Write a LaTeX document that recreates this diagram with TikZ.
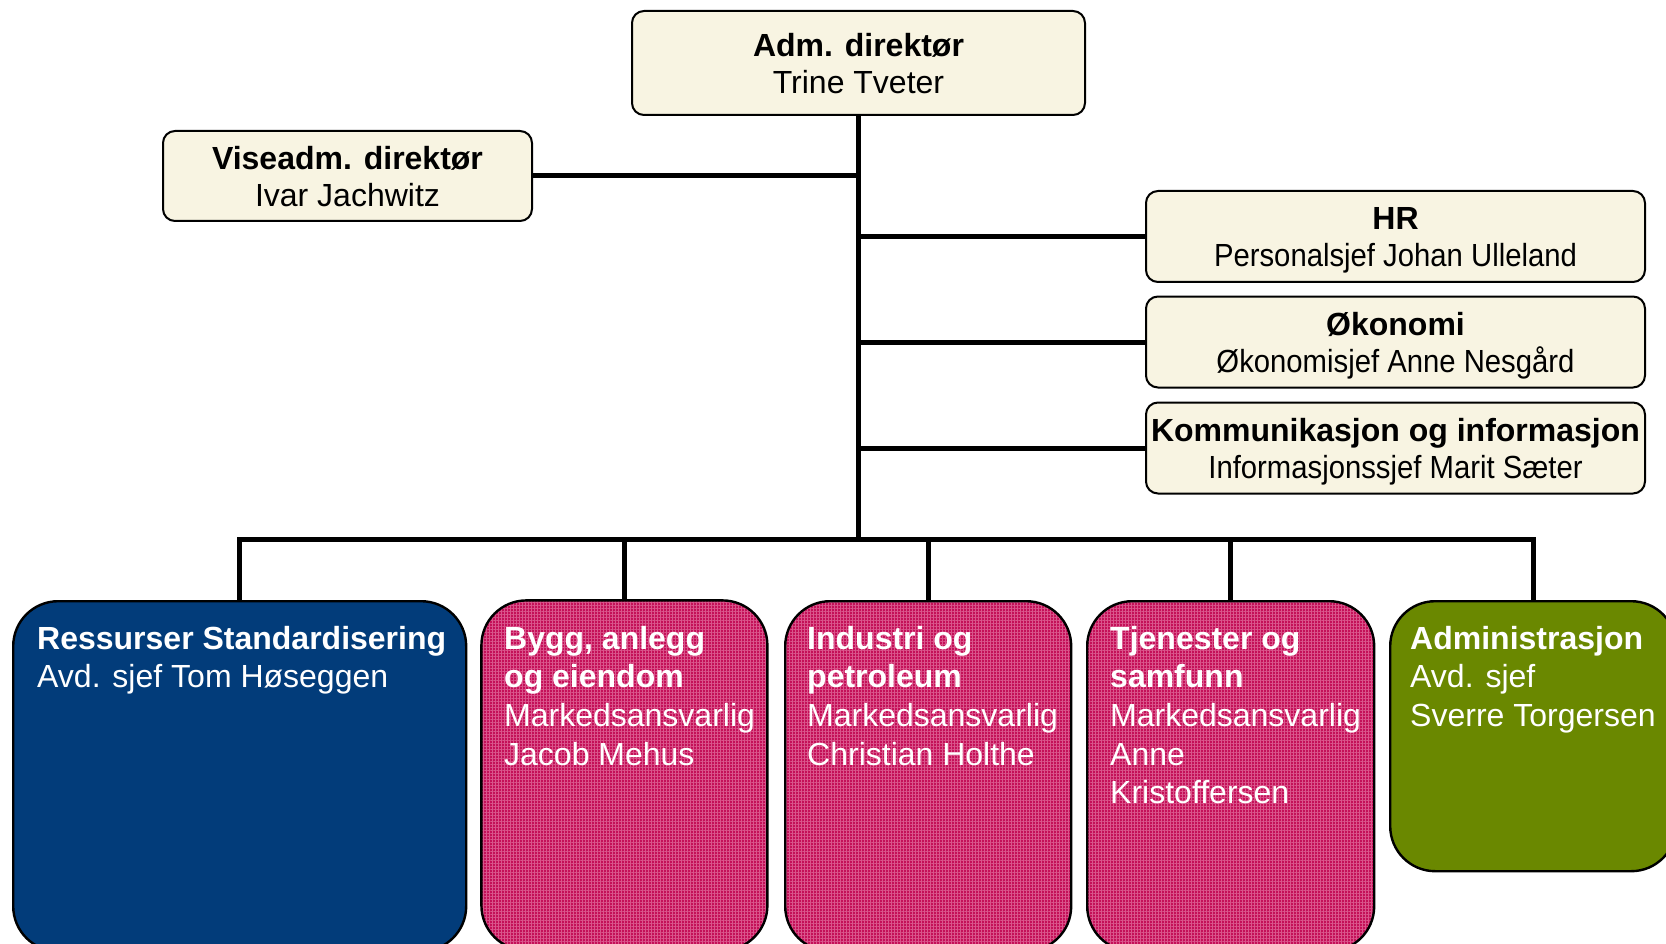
\documentclass[tikz,border=0pt]{standalone}
\usepackage{fontspec}
\setmainfont{Liberation Sans}
\newfontfamily\narrowfont[FakeStretch=0.915]{Liberation Sans}
\usetikzlibrary{patterns.meta}

\definecolor{cream}{RGB}{248,244,226}
\definecolor{resblue}{RGB}{2,60,122}
\definecolor{markpink}{RGB}{196,16,88}
\definecolor{gridpink}{RGB}{218,86,140}
\definecolor{admgreen}{RGB}{106,136,0}

\tikzset{
  topbox/.style={draw, rounded corners=12pt, fill=cream, line width=2pt, align=center, inner sep=0pt,
    text depth=-4pt, font=\fontsize{32}{37}\selectfont},
  deptbox/.style={draw, rounded corners=45pt, line width=2.4pt, inner sep=0pt, anchor=north west,
    minimum width=286pt},
  pinkbox/.style={deptbox, preaction={fill=markpink}, pattern={Hatch[angle=0, distance=3pt, line width=0.8pt]},
    pattern color=gridpink},
  depttext/.style={text=white, align=left, anchor=north west, inner sep=0pt,
    font=\fontsize{32}{38.6}\selectfont},
  link/.style={line width=5pt}
}

\begin{document}
\begin{tikzpicture}[x=1pt, y=-1pt]
	\useasboundingbox (0,0) rectangle (1666,944);
	\clip (0,0) rectangle (1666,944);

	% ledelse og stab
	\node[topbox, minimum width=453pt, minimum height=104pt] (adm) at (858.5,63) {\textbf{Adm. direktør}\\Trine Tveter};
	\node[topbox, minimum width=369pt, minimum height=90pt] (vise) at (347.5,176) {\textbf{Viseadm. direktør}\\Ivar Jachwitz};
	\node[topbox, minimum width=499pt, minimum height=91pt] (hr) at (1395.5,236.5) {\textbf{HR}\\{\narrowfont Personalsjef Johan Ulleland}};
	\node[topbox, minimum width=499pt, minimum height=91pt] (oko) at (1395.5,342) {\textbf{Økonomi}\\{\narrowfont Økonomisjef Anne Nesgård}};
	\node[topbox, minimum width=499pt, minimum height=91pt] (kom) at (1395.5,448) {\textbf{Kommunikasjon og informasjon}\\{\narrowfont Informasjonssjef Marit Sæter}};

	% avdelinger
	\node[deptbox, fill=resblue, minimum width=453pt, minimum height=350pt] (res) at (12,600) {};
	\node[pinkbox, minimum height=350pt] (bae) at (481,600) {};
	\node[pinkbox, minimum height=350pt] (ip) at (784,600) {};
	\node[pinkbox, minimum width=287pt, minimum height=350pt] (ts) at (1086,600) {};
	\node[deptbox, fill=admgreen, minimum height=270pt] (admin) at (1389,600) {};

	\node[depttext] (res-t) at ([shift={(25,26)}]res.north west) {\textbf{Ressurser Standardisering}\\Avd. sjef Tom Høseggen};
	\node[depttext] (bae-t) at ([shift={(23,26)}]bae.north west) {\textbf{Bygg, anlegg}\\\textbf{og eiendom}\\Markedsansvarlig\\Jacob Mehus};
	\node[depttext] (ip-t) at ([shift={(23,26)}]ip.north west) {\textbf{Industri og}\\\textbf{petroleum}\\Markedsansvarlig\\Christian Holthe};
	\node[depttext] (ts-t) at ([shift={(24,26)}]ts.north west) {\textbf{Tjenester og}\\\textbf{samfunn}\\Markedsansvarlig\\Anne\\Kristoffersen};
	\node[depttext] (admin-t) at ([shift={(21,26)}]admin.north west) {\textbf{Administrasjon}\\Avd. sjef\\Sverre Torgersen};

	% linjer
	\coordinate (bus) at (858.5,539);
	\draw[link] (adm.south) -- (bus);
	\draw[link] (vise.east) -- (vise.east -| adm.south);
	\foreach \n in {hr,oko,kom}
		\draw[link] (\n.west) -- (\n.west -| adm.south);
	\draw[link, line cap=rect] (res.north |- bus) -- (admin.north |- bus);
	\foreach \n in {res,bae,ip,ts,admin}
		\draw[link] (\n.north) -- (\n.north |- bus);
\end{tikzpicture}
\end{document}
